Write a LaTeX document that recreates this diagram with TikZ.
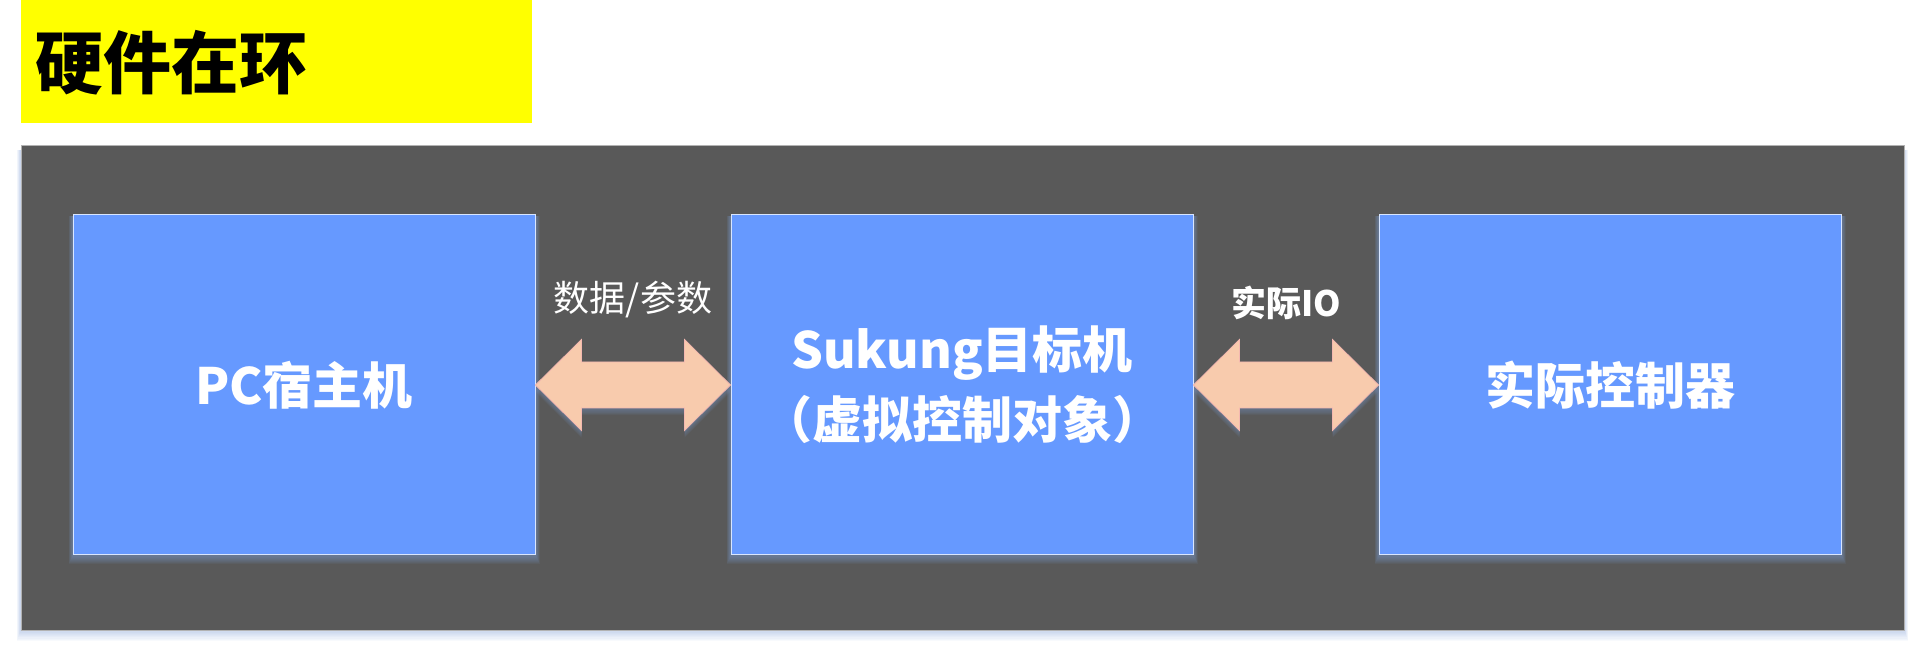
\documentclass[tikz,border=0pt]{standalone}
\usepackage{fontspec}
\setmainfont{Noto Sans CJK SC}
\newfontfamily\cjkfont{Noto Sans CJK SC}
\usetikzlibrary{calc}
\definecolor{darkbg}{HTML}{595959}
\definecolor{boxblue}{HTML}{6699FF}
\definecolor{arrowfill}{HTML}{F8CBAD}
\definecolor{arrowline}{HTML}{F4B8B0}
\definecolor{shadowblue}{HTML}{7F9FD8}
\definecolor{titleyellow}{HTML}{FFFF00}
\tikzset{
  bluebox/.style={draw=white!75!boxblue, line width=1pt, fill=boxblue, minimum width=462pt, minimum height=340pt, inner sep=0pt, text=white, font=\cjkfont\bfseries\fontsize{50pt}{70pt}\selectfont, align=center},
  arrowshape/.style={fill=arrowfill, draw=arrowline, line width=0.8pt},
  arrowlabel/.style={text=white, inner sep=0pt, font=\cjkfont\fontsize{36pt}{40pt}\selectfont},
  arrowlabelbold/.style={text=white, inner sep=0pt, font=\cjkfont\bfseries\fontsize{35pt}{40pt}\selectfont},
  softshadow/.style={fill=shadowblue, opacity=0.08},
}
\newcommand\glowbox[1]{%
  \foreach \i in {1,...,8}{%
    \fill[softshadow] ($(#1.south west)+(-0.5*\i,-1.1*\i)$) rectangle ($(#1.north east)+(0.5*\i,-2)$);
  }%
}
\newcommand\dblarrowpath[3]{%
  ($(#1.east)+(0,#3)$) -- ($(#1.east)+(46,-45.5+#3)$) -- ($(#1.east)+(46,-23+#3)$) -- ($(#2.west)+(-46,-23+#3)$) -- ($(#2.west)+(-46,-45.5+#3)$) -- ($(#2.west)+(0,#3)$) -- ($(#2.west)+(-46,45.5+#3)$) -- ($(#2.west)+(-46,23+#3)$) -- ($(#1.east)+(46,23+#3)$) -- ($(#1.east)+(46,45.5+#3)$) -- cycle
}
\newcommand\dblarrow[2]{%
  \foreach \i in {1,...,6}{%
    \fill[softshadow] \dblarrowpath{#1}{#2}{-1.2*\i};
  }%
  \draw[arrowshape] \dblarrowpath{#1}{#2}{0};
}
\begin{document}
\begin{tikzpicture}[x=1pt, y=1pt]
\useasboundingbox (0,0) rectangle (1920,650);
\fill[white] (0,0) rectangle (1920,650);
% title
\node[fill=titleyellow, minimum width=511pt, minimum height=123pt, inner sep=0pt, anchor=north west] (titlebox) at (21,650) {};
\node[anchor=west, inner sep=0pt, font=\cjkfont\bfseries\fontsize{68pt}{70pt}\selectfont, text=black] (title) at (35,587) {硬件在环};
% dark panel with shadow
\foreach \i in {1,...,10}{
  \fill[shadowblue, opacity=0.05] (21-0.4*\i,21-1.2*\i) rectangle (1904+0.4*\i,500);
}
\node[fill=darkbg, draw=gray!60, line width=0.8pt, minimum width=1883pt, minimum height=485pt, inner sep=0pt, anchor=north west] (panel) at (21,505) {};
% boxes
\coordinate (c1) at (304,265);
\coordinate (c2) at (962,265);
\coordinate (c3) at (1610,265);
\path (c1) node[bluebox] (b1) {};
\path (c2) node[bluebox] (b2) {};
\path (c3) node[bluebox] (b3) {};
\glowbox{b1}
\glowbox{b2}
\glowbox{b3}
\node[bluebox] (b1) at (c1) {PC宿主机};
\node[bluebox] (b2) at (c2) {Sukung目标机\\（虚拟控制对象）};
\node[bluebox] (b3) at (c3) {实际控制器};
% arrows
\dblarrow{b1}{b2}
\dblarrow{b2}{b3}
\node[arrowlabel] (l1) at (633,350) {数据/参数};
\node[arrowlabelbold] (l2) at (1286,347) {实际IO};
\end{tikzpicture}
\end{document}
